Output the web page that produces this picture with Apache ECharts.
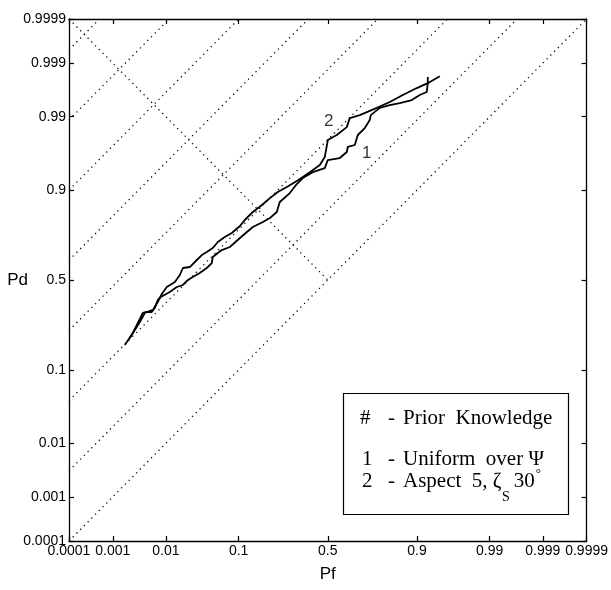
<!DOCTYPE html>
<html><head><meta charset="utf-8">
<script src="https://cdn.jsdelivr.net/npm/echarts@6/dist/echarts.min.js"></script>
<style>html,body{margin:0;padding:0;background:#fff}#c{width:611px;height:590px}</style>
</head><body><div id="c"></div>
<script>
// Probability tick positions and labels (normal-deviate / probit scale)
const tickValues = [0.0001, 0.001, 0.01, 0.1, 0.5, 0.9, 0.99, 0.999, 0.9999];
const tickLabels = ['0.0001', '0.001', '0.01', '0.1', '0.5', '0.9', '0.99', '0.999', '0.9999'];

// Curve 1 - Uniform over Psi
const curve1Pf = [0.00177,0.00254,0.00317,0.00393,0.00446,0.00571,0.00646,0.00727,0.0082,0.01158,0.0150,0.01865,0.0222,0.0262,0.0329,0.0410,0.0477,0.0492,0.0570,0.0638,0.0796,0.1034,0.1225,0.1408,0.1754,0.2027,0.2318,0.2451,0.2926,0.3282,0.3598,0.4145,0.4828,0.5,0.5683,0.6076,0.6130,0.6510,0.6668,0.7026,0.7268,0.7318,0.7725,0.8134,0.8495,0.8862,0.9069,0.9225,0.9246,0.9246];
const curve1Pd = [0.1775,0.2252,0.2700,0.3193,0.3243,0.3243,0.3450,0.3878,0.4044,0.4321,0.4602,0.4717,0.5,0.5171,0.5398,0.5679,0.5956,0.6285,0.6499,0.6653,0.6808,0.7251,0.7530,0.7748,0.7956,0.8112,0.8338,0.8667,0.8923,0.9143,0.9268,0.9378,0.9446,0.9563,0.9589,0.9659,0.9710,0.9728,0.9806,0.9848,0.9887,0.9906,0.9929,0.99365,0.99415,0.99483,0.9958,0.9963,0.99748,0.99808];

// Curve 2 - Aspect 5, zeta_S 30 deg
const curve2Pf = [0.00222,0.00278,0.00346,0.00427,0.00597,0.00727,0.00853,0.01034,0.0140,0.01675,0.01865,0.0237,0.0299,0.0351,0.0410,0.0492,0.0570,0.0694,0.0839,0.1034,0.1165,0.1408,0.1719,0.2027,0.2363,0.2779,0.3282,0.3598,0.3979,0.4542,0.4828,0.5,0.5513,0.6076,0.6240,0.6772,0.7593,0.8134,0.8595,0.8996,0.9246,0.9462];
const curve2Pd = [0.2047,0.2382,0.2749,0.3193,0.3347,0.3771,0.4211,0.4602,0.4888,0.5283,0.5679,0.5734,0.6122,0.6391,0.6550,0.6758,0.7058,0.7300,0.7486,0.7791,0.8037,0.8338,0.8573,0.8784,0.8950,0.9074,0.9207,0.9288,0.9378,0.9493,0.9601,0.9769,0.9806,0.9853,0.9895,0.9906,0.9929,0.9944,0.9958,0.99688,0.99748,0.99816];

// Iso-d' reference lines (in normal-deviate units) and curve annotations
const dPrimeLevels = [0, 1, 2, 3, 4, 5, 6, 7];
const curveNames = ['1', '2'];
const curveLabelPf = [0.7123, 0.506];
const curveLabelPd = [0.9648, 0.9882];

// Legend box text
const legendMarks = ['#', '1', '2'];
const legendTexts = ['Prior  Knowledge', 'Uniform  over \u03A8', 'Aspect  5, \u03B6'];
const legendSub = 'S';
const legendTail = '30';
const legendSup = '\u00B0';

function probit(p) {
  const a = [-3.969683028665376e+01, 2.209460984245205e+02, -2.759285104469687e+02, 1.383577518672690e+02, -3.066479806614716e+01, 2.506628277459239e+00];
  const b = [-5.447609879822406e+01, 1.615858368580409e+02, -1.556989798598866e+02, 6.680131188771972e+01, -1.328068155288572e+01];
  const c = [-7.784894002430293e-03, -3.223964580411365e-01, -2.400758277161838e+00, -2.549732539343734e+00, 4.374664141464968e+00, 2.938163982698783e+00];
  const d = [7.784695709041462e-03, 3.224671290700398e-01, 2.445134137142996e+00, 3.754408661907416e+00];
  const plow = 0.02425, phigh = 1 - plow;
  let q, r;
  if (p < plow) {
    q = Math.sqrt(-2 * Math.log(p));
    return (((((c[0]*q+c[1])*q+c[2])*q+c[3])*q+c[4])*q+c[5]) / ((((d[0]*q+d[1])*q+d[2])*q+d[3])*q+1);
  } else if (p <= phigh) {
    q = p - 0.5; r = q * q;
    return (((((a[0]*r+a[1])*r+a[2])*r+a[3])*r+a[4])*r+a[5])*q / (((((b[0]*r+b[1])*r+b[2])*r+b[3])*r+b[4])*r+1);
  } else {
    q = Math.sqrt(-2 * Math.log(1 - p));
    return -(((((c[0]*q+c[1])*q+c[2])*q+c[3])*q+c[4])*q+c[5]) / ((((d[0]*q+d[1])*q+d[2])*q+d[3])*q+1);
  }
}

const zMin = probit(tickValues[0]);
const zMax = probit(tickValues[tickValues.length - 1]);
const tickZ = tickValues.map(probit);
function fmt(v) {
  for (let i = 0; i < tickZ.length; i++) if (Math.abs(tickZ[i] - v) < 1e-6) return tickLabels[i];
  return '';
}

const labelFont = 'Liberation Sans, Arial, sans-serif';
function makeAxis(pos, showLabel, extra) {
  return Object.assign({
    type: 'value', min: zMin, max: zMax, position: pos,
    axisLine: { show: true, onZero: false, lineStyle: { color: '#000', width: 1.3 } },
    axisTick: { show: true, inside: true, length: 5, customValues: tickZ, lineStyle: { color: '#000', width: 1.2 } },
    axisLabel: { show: showLabel, customValues: tickZ, formatter: fmt, color: '#000', fontSize: 14, fontFamily: labelFont, margin: 3 },
    splitLine: { show: false }
  }, extra || {});
}

const dotStyle = { color: '#111', width: 1.3, type: [1.3, 4] };
const series = [];
dPrimeLevels.forEach(dp => {
  series.push({
    type: 'line', xAxisIndex: 0, yAxisIndex: 0, symbol: 'none', silent: true,
    lineStyle: dotStyle,
    data: [[zMin, zMin + dp], [zMax - dp, zMax]]
  });
});
series.push({
  type: 'line', xAxisIndex: 0, yAxisIndex: 0, symbol: 'none', silent: true,
  lineStyle: dotStyle,
  data: [[zMin, zMax], [0, 0]]
});
[[curve1Pf, curve1Pd], [curve2Pf, curve2Pd]].forEach((c, k) => {
  series.push({
    type: 'line', name: curveNames[k], xAxisIndex: 0, yAxisIndex: 0, symbol: 'none',
    lineStyle: { color: '#000', width: 1.8 },
    data: c[0].map((p, i) => [probit(p), probit(c[1][i])])
  });
});
series.push({
  type: 'scatter', xAxisIndex: 0, yAxisIndex: 0, symbolSize: 0, silent: true,
  label: { show: true, position: 'inside', formatter: p => p.name, color: '#000', fontSize: 17, fontFamily: labelFont },
  data: curveNames.map((n, i) => ({ name: n, value: [probit(curveLabelPf[i]), probit(curveLabelPd[i])] }))
});

// Legend (drawn as a boxed text panel)
const serif = '"Liberation Serif", "Times New Roman", serif';
const mctx = document.createElement('canvas').getContext('2d');
function textW(t, size) { mctx.font = size + 'px ' + serif; return mctx.measureText(t).width; }
const legendY = [418, 459, 481];
const textX = 403;
const graphics = [
  { type: 'rect', shape: { x: 343.5, y: 393.5, width: 225, height: 121 }, style: { fill: '#fff', stroke: '#000', lineWidth: 1.2 }, z: 10 }
];
legendMarks.forEach((m, i) => {
  graphics.push({ type: 'text', x: i === 0 ? 360 : 362, y: legendY[i], z: 11, style: { text: m, fontSize: 21, fontFamily: serif, fill: '#000', verticalAlign: 'middle' } });
  graphics.push({ type: 'text', x: 388, y: legendY[i], z: 11, style: { text: '-', fontSize: 21, fontFamily: serif, fill: '#000', verticalAlign: 'middle' } });
  graphics.push({ type: 'text', x: textX, y: legendY[i], z: 11, style: { text: legendTexts[i], fontSize: 21, fontFamily: serif, fill: '#000', verticalAlign: 'middle' } });
});
const subX = textX + textW(legendTexts[2], 21) + 0.5;
const tailX = subX + textW(legendSub, 14) + 4;
const supX = tailX + textW(legendTail, 21) + 1;
graphics.push({ type: 'text', x: subX, y: 497, z: 11, style: { text: legendSub, fontSize: 14, fontFamily: serif, fill: '#000', verticalAlign: 'middle' } });
graphics.push({ type: 'text', x: tailX, y: 481, z: 11, style: { text: legendTail, fontSize: 21, fontFamily: serif, fill: '#000', verticalAlign: 'middle' } });
graphics.push({ type: 'text', x: supX, y: 474, z: 11, style: { text: legendSup, fontSize: 13, fontFamily: serif, fill: '#000', verticalAlign: 'middle' } });

const chart = echarts.init(document.getElementById('c'), null, { renderer: 'canvas' });
chart.setOption({
  animation: false,
  backgroundColor: '#fff',
  grid: { left: 69, top: 19, right: 24, bottom: 49, containLabel: false },
  xAxis: [
    makeAxis('bottom', true, { name: 'Pf', nameLocation: 'middle', nameGap: 25, nameMoveOverlap: false, nameTextStyle: { color: '#000', fontSize: 17, fontFamily: labelFont } }),
    makeAxis('top', false)
  ],
  yAxis: [
    makeAxis('left', true, { name: 'Pd', nameLocation: 'middle', nameGap: 41, nameRotate: 0, nameMoveOverlap: false, nameTextStyle: { color: '#000', fontSize: 17, fontFamily: labelFont, padding: [6, 0, 0, 0] } }),
    makeAxis('right', false)
  ],
  series: series,
  graphic: { elements: graphics }
});
</script></body></html>
